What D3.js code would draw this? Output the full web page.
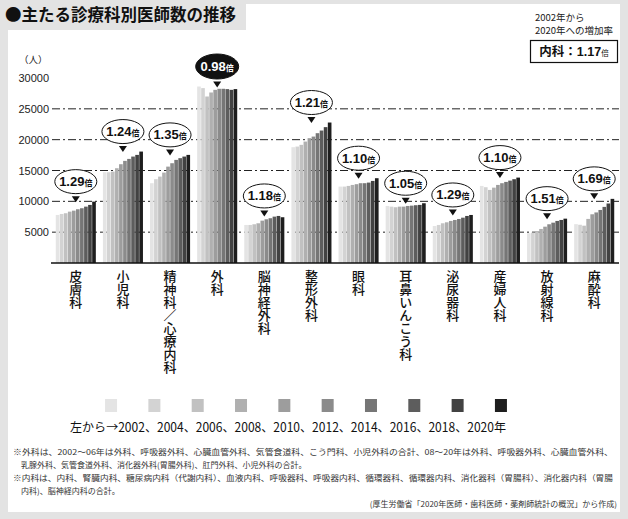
<!DOCTYPE html>
<html><head><meta charset="utf-8">
<script src="https://cdn.jsdelivr.net/npm/d3@7"></script>
<style>
html,body{margin:0;padding:0;background:#e3e3e3;}
svg{display:block;}
</style></head>
<body>
<svg id="c" width="628" height="519"></svg>
<script>
const categories = ["皮膚科","小児科","精神科／心療内科","外科","脳神経外科","整形外科","眼科","耳鼻いんこう科","泌尿器科","産婦人科","放射線科","麻酔科"];
const years = [2002,2004,2006,2008,2010,2012,2014,2016,2018,2020];
const ratios = ["1.29","1.24","1.35","0.98","1.18","1.21","1.10","1.05","1.29","1.10","1.51","1.69"];
const hifuka = [7790,7950,8070,8330,8490,8720,8880,9140,9420,9950];
const shonika = [14720,14720,14820,15370,16020,16560,16880,17260,17530,18070];
const seishinka = [12940,13590,14010,14660,15630,16180,16720,17000,17260,17530];
const geka = [28620,28360,27000,27650,28080,28250,28250,28200,28080,28200];
const noshinkeigeka = [6170,6170,6280,6440,6870,7090,7260,7520,7630,7420];
const seikeigeka = [18780,18880,19160,19690,20240,20500,21050,21480,22030,22780];
const ganka = [12390,12390,12500,12660,12780,12940,12940,13040,13310,13750];
const jibika = [9250,9140,9040,9140,9140,9250,9300,9370,9420,9690];
const hinyokika = [6000,6170,6440,6600,6820,6980,7140,7350,7630,7790];
const sanfujinka = [12500,12290,11850,12220,12660,12940,13150,13360,13590,13850];
const hoshasenka = [4820,4920,5080,5520,5890,6280,6540,6820,6980,7190];
const masuika = [6300,6200,6050,7150,7900,8200,8600,9100,9650,10400];
const seriesByCategory = [hifuka,shonika,seishinka,geka,noshinkeigeka,seikeigeka,ganka,jibika,hinyokika,sanfujinka,hoshasenka,masuika];
const yTicks = [5000,10000,15000,20000,25000,30000];
const gridTicks = [5000,10000,15000,20000,25000];
const yearColors = ["#e4e4e4","#d3d3d3","#c1c1c1","#b0b0b0","#9d9d9d","#8b8b8b","#767676","#5d5d5d","#424242","#1e1e1e"];
const highlightIndex = 3;
const naikaRatio = "1.17";
const notes = [
 "※外科は、2002～06年は外科、呼吸器外科、心臓血管外科、気管食道科、こう門科、小児外科の合計、08～20年は外科、呼吸器外科、心臓血管外科、",
 "乳腺外科、気管食道外科、消化器外科(胃腸外科)、肛門外科、小児外科の合計。",
 "※内科は、内科、腎臓内科、糖尿病内科（代謝内科）、血液内科、呼吸器科、呼吸器内科、循環器科、循環器内科、消化器科（胃腸科）、消化器内科（胃腸",
 "内科)、脳神経内科の合計。"
];
const sourceText = "(厚生労働省「2020年医師・歯科医師・薬剤師統計の概況」から作成)";

const JP = "'Noto Sans CJK JP','Noto Sans',sans-serif";
const NUM = "'Liberation Sans',Arial,sans-serif";
const svg = d3.select("#c");

// panels
svg.append("rect").attr("x",8).attr("y",4).attr("width",612).attr("height",508).attr("fill","#fff");
svg.append("rect").attr("x",0).attr("y",0).attr("width",246).attr("height",30).attr("fill","#e3e3e3");
svg.append("text").attr("x",5).attr("y",21).attr("font-family",JP).attr("font-weight",700)
  .attr("font-size",16.5).attr("fill","#111").text("●主たる診療科別医師数の推移");

const y = d3.scaleLinear().domain([0,30000]).range([263,78]);
const x = d3.scaleBand().domain(categories).range([52,618]).paddingInner(0.15).paddingOuter(0.08);
const xi = d3.scaleBand().domain(years).range([0,x.bandwidth()]).paddingInner(0.1);

// grid
svg.append("g").selectAll("line").data(gridTicks).join("line")
  .attr("x1",52).attr("x2",619).attr("y1",d=>y(d)).attr("y2",d=>y(d))
  .attr("stroke","#222").attr("stroke-width",1).attr("stroke-dasharray","8,3,2,3");

// y axis labels
const yAxis = d3.axisLeft(y).tickValues(yTicks).tickSize(0).tickPadding(0).tickFormat(d3.format("d"));
const ga = svg.append("g").attr("transform","translate(49,0)").call(yAxis);
ga.select(".domain").remove();
ga.selectAll("text").attr("font-family",NUM).attr("font-size",11).attr("fill","#222");
svg.append("text").attr("x",19).attr("y",63).attr("font-family",JP).attr("font-size",9.5).attr("fill","#222").text("（人）");

// bars
const groups = svg.append("g").selectAll("g").data(categories).join("g")
  .attr("transform",d=>`translate(${x(d)},0)`);
groups.selectAll("rect").data((d,i)=>seriesByCategory[i].map((v,j)=>({v,year:years[j],j}))).join("rect")
  .attr("x",d=>xi(d.year)).attr("width",xi.bandwidth())
  .attr("y",d=>y(d.v)).attr("height",d=>y(0)-y(d.v))
  .attr("fill",d=>yearColors[d.j]);

// baseline
svg.append("line").attr("x1",51).attr("x2",619).attr("y1",y(0)).attr("y2",y(0)).attr("stroke","#111").attr("stroke-width",1.5);

// category labels (vertical writing)
groups.append("text")
  .attr("x",x.bandwidth()/2).attr("y",270)
  .attr("font-family",JP).attr("font-size",13).attr("font-weight",500).attr("fill","#111")
  .style("writing-mode","vertical-rl").style("text-orientation","upright")
  .text(d=>d);

// callouts
groups.each(function(d,i){
  const g = d3.select(this);
  const cx = x.bandwidth()/2;
  const top = y(d3.max(seriesByCategory[i]));
  const cy = top - 20;
  const dark = i===highlightIndex;
  const rx = dark?21.5:21, ry = dark?12.5:12;
  g.append("ellipse").attr("cx",cx).attr("cy",cy).attr("rx",rx).attr("ry",ry)
    .attr("fill",dark?"#111":"#fff").attr("stroke","#111").attr("stroke-width",1);
  const tb = cy + ry + 2.5;
  g.append("path").attr("d",`M${cx-4},${tb}L${cx+4},${tb}L${cx},${tb+6}Z`).attr("fill","#111");
  const t = g.append("text").attr("x",cx).attr("y",cy+4.5).attr("text-anchor","middle").attr("fill",dark?"#fff":"#111");
  t.append("tspan").attr("font-family",NUM).attr("font-weight",700).attr("font-size",13).text(ratios[i]);
  t.append("tspan").attr("font-family",JP).attr("font-weight",700).attr("font-size",8).text("倍");
});

// top-right note
svg.append("text").attr("x",535).attr("y",21).attr("font-family",JP).attr("font-size",9.5).attr("fill","#222").text("2002年から");
svg.append("text").attr("x",535).attr("y",34).attr("font-family",JP).attr("font-size",9.5).attr("fill","#222").text("2020年への増加率");
svg.append("rect").attr("x",530.5).attr("y",40.5).attr("width",87).attr("height",22).attr("fill","#fff").attr("stroke","#111").attr("stroke-width",1.2);
const nt = svg.append("text").attr("x",574).attr("y",56).attr("text-anchor","middle").attr("fill","#111");
nt.append("tspan").attr("font-family",JP).attr("font-weight",700).attr("font-size",12.5).text("内科：");
nt.append("tspan").attr("font-family",NUM).attr("font-weight",700).attr("font-size",12.5).text(naikaRatio);
nt.append("tspan").attr("font-family",JP).attr("font-size",7.5).text("倍");

// legend
const lx = d3.scaleBand().domain(years).range([92,520]).paddingInner(0.72).paddingOuter(0.3);
svg.append("g").selectAll("rect").data(years).join("rect")
  .attr("x",d=>lx(d)+lx.bandwidth()/2-6).attr("y",399).attr("width",12).attr("height",13)
  .attr("fill",(d,i)=>yearColors[i]);
svg.append("text").attr("x",70).attr("y",432).attr("font-family",JP).attr("font-size",12.5).attr("fill","#111")
  .attr("textLength",436).attr("lengthAdjust","spacingAndGlyphs")
  .text("左から→" + years.join("、") + "年");

// footnotes
const noteY = [455,468,481,494];
const noteX = [13,21,13,21];
const noteLen = [600,null,600,null];
notes.forEach((s,k)=>{
  const t = svg.append("text").attr("x",noteX[k]).attr("y",noteY[k]).attr("font-family",JP).attr("font-size",8).attr("fill","#333").text(s);
  if(noteLen[k]) t.attr("textLength",noteLen[k]).attr("lengthAdjust","spacingAndGlyphs");
});
svg.append("text").attr("x",617).attr("y",507).attr("text-anchor","end").attr("font-family",JP).attr("font-size",8).attr("fill","#333").text(sourceText);
</script>
</body></html>
